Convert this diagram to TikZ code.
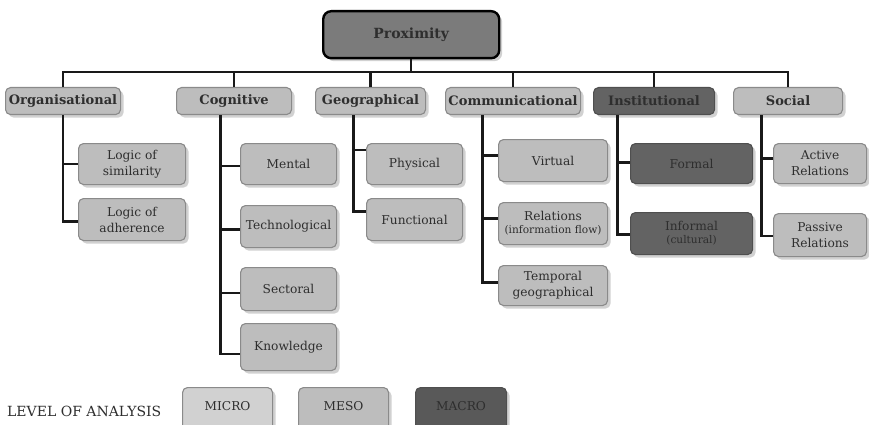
\documentclass[tikz,border=0pt]{standalone}
\usepackage{fontspec}
\setmainfont{DejaVu Serif}
\usetikzlibrary{shadows}
\definecolor{lightbox}{HTML}{BDBDBD}
\definecolor{lightedge}{HTML}{8A8A8A}
\definecolor{darkbox}{HTML}{636363}
\definecolor{proxbox}{HTML}{7B7B7B}
\definecolor{txt}{HTML}{2E2E2E}
\tikzset{
  box/.style={draw=lightedge, line width=1.1pt, fill=lightbox, rounded corners=5pt,
    anchor=north west, inner sep=1pt, align=center, text=txt,
    drop shadow={shadow xshift=3pt, shadow yshift=-3pt, fill=black, opacity=0.18}},
  lone/.style={box, font=\bfseries\fontsize{13}{15}\selectfont},
  ltwo/.style={box, font=\fontsize{12.2}{16}\selectfont},
  paren/.style={},
  dark/.style={fill=darkbox, draw=darkbox!80!black},
  conn/.style={line width=2.4pt, draw=black!90}
}
\newcommand{\bx}[7]{% name, style, x1, y1, x2, y2, text
  \pgfmathsetmacro{\bw}{#5-#3}\pgfmathsetmacro{\bh}{#6-#4}
  \node[#2, minimum width=\bw pt, minimum height=\bh pt] (#1) at (#3,#4) {#7};}
\newcommand{\parentext}[1]{{\fontsize{10.6}{12}\selectfont #1}}
\begin{document}
\begin{tikzpicture}[x=1pt,y=-1pt]
\useasboundingbox (0,0) rectangle (869,425);
% top
\bx{prox}{box, fill=proxbox, draw=black, line width=2.4pt, rounded corners=8pt, font=\bfseries\fontsize{14}{16}\selectfont}{322}{10}{498}{57}{Proximity}
\coordinate (bus) at (410,72);
% level 1
\bx{org}{lone}{5}{87}{120}{114}{Organisational}
\bx{cog}{lone}{176}{87}{291}{114}{Cognitive}
\bx{geo}{lone}{315}{87}{425}{114}{Geographical}
\bx{com}{lone}{445}{87}{580}{114}{Communicational}
\bx{inst}{lone, dark}{593}{87}{714}{114}{Institutional}
\bx{soc}{lone}{733}{87}{842}{114}{Social}
% level 2
\bx{sim}{ltwo}{78}{143}{185}{184}{Logic of\\similarity}
\bx{adh}{ltwo}{78}{198}{185}{240}{Logic of\\adherence}
\bx{ment}{ltwo}{240}{143}{336}{184}{Mental}
\bx{tech}{ltwo}{240}{205}{336}{247}{Technological}
\bx{sect}{ltwo}{240}{267}{336}{310}{Sectoral}
\bx{know}{ltwo}{240}{323}{336}{370}{Knowledge}
\bx{phys}{ltwo}{366}{143}{462}{184}{Physical}
\bx{func}{ltwo}{366}{198}{462}{240}{Functional}
\bx{virt}{ltwo}{498}{139}{607}{181}{Virtual}
\bx{rel}{ltwo}{498}{202}{607}{244}{Relations\\[-3pt]\parentext{(information flow)}}
\bx{temp}{ltwo}{498}{265}{607}{305}{Temporal\\geographical}
\bx{form}{ltwo, dark}{630}{143}{752}{183}{Formal}
\bx{inf}{ltwo, dark}{630}{212}{752}{254}{Informal\\[-3pt]\parentext{(cultural)}}
\bx{act}{ltwo}{773}{143}{866}{183}{Active\\Relations}
\bx{pas}{ltwo}{773}{213}{866}{256}{Passive\\Relations}
% legend
\node[anchor=west, inner sep=0pt, text=txt, font=\fontsize{14}{16}\selectfont] (lvl) at (7,411) {LEVEL OF ANALYSIS};
\bx{micro}{ltwo, fill=lightbox!70!white, text depth=8pt}{182}{387}{272}{432}{MICRO}
\bx{meso}{ltwo, text depth=8pt}{298}{387}{388}{432}{MESO}
\bx{macro}{ltwo, dark, fill=darkbox!90!black, text depth=8pt}{415}{387}{506}{432}{MACRO}
% bus connectors
\draw[conn] (prox.south) -- (prox.south |- bus);
\foreach \n in {org,cog,geo,com,inst,soc}{\draw[conn] (\n.north) |- (prox.south |- bus);}
% trunks
\draw[conn] (org.south) |- (sim.west);
\draw[conn] (org.south) |- ([yshift=-2pt]adh.west);
\draw[conn] ([xshift=-13.5pt]cog.south) |- ([yshift=-2pt]ment.west);
\draw[conn] ([xshift=-13.5pt]cog.south) |- ([yshift=-3pt]tech.west);
\draw[conn] ([xshift=-13.5pt]cog.south) |- ([yshift=-4pt]sect.west);
\draw[conn] ([xshift=-13.5pt]cog.south) |- ([yshift=-7pt]know.west);
\draw[conn] ([xshift=-17pt]geo.south) |- ([yshift=14pt]phys.west);
\draw[conn] ([xshift=-17pt]geo.south) |- ([yshift=8pt]func.west);
\draw[conn] ([xshift=-30.5pt]com.south) |- ([yshift=5pt]virt.west);
\draw[conn] ([xshift=-30.5pt]com.south) |- ([yshift=5pt]rel.west);
\draw[conn] ([xshift=-30.5pt]com.south) |- ([yshift=3pt]temp.west);
\draw[conn] ([xshift=-36.5pt]inst.south) |- ([yshift=1pt]form.west);
\draw[conn] ([xshift=-36.5pt]inst.south) |- ([yshift=-1pt]inf.west);
\draw[conn] ([xshift=-26.5pt]soc.south) |- ([yshift=5pt]act.west);
\draw[conn] ([xshift=-26.5pt]soc.south) |- ([yshift=-1pt]pas.west);
\end{tikzpicture}
\end{document}
